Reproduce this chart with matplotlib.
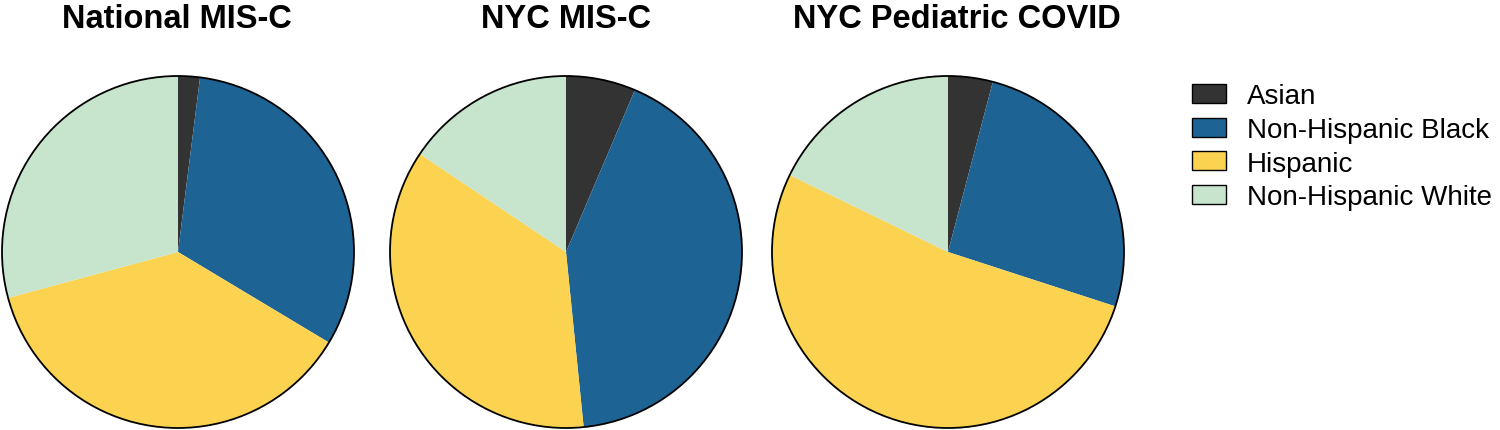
import matplotlib
matplotlib.use("Agg")
import matplotlib.pyplot as plt
from matplotlib.patches import Circle, Patch

categories = ["Asian", "Non-Hispanic Black", "Hispanic", "Non-Hispanic White"]
colors = ["#333333", "#1d6494", "#fbd351", "#c7e4cd"]
titles = ["National MIS-C", "NYC MIS-C", "NYC Pediatric COVID"]
national_misc = [2.0, 31.6, 37.2, 29.2]
nyc_misc = [6.4, 42.0, 36.0, 15.6]
nyc_covid = [4.1, 25.9, 52.2, 17.8]
series = [national_misc, nyc_misc, nyc_covid]

plt.rcParams['font.family'] = ['Liberation Sans', 'DejaVu Sans']
W, H = 1500, 431
fig = plt.figure(figsize=(15, 4.31), dpi=100)

centers = [178, 566, 948]
r = 176
cy = 253
title_x = [177, 566, 957]
for cx, vals, title, tx in zip(centers, series, titles, title_x):
    pad = 2
    ax = fig.add_axes([(cx - r - pad) / W, (H - cy - r - pad) / H,
                       (2 * r + 2 * pad) / W, (2 * r + 2 * pad) / H])
    ax.pie(vals, colors=colors, startangle=90, counterclock=False,
           wedgeprops=dict(linewidth=0), radius=1)
    ax.add_patch(Circle((0, 0), 1, fill=False, lw=1.3, ec="black"))
    lim = 1 + pad / r
    ax.set_xlim(-lim, lim)
    ax.set_ylim(-lim, lim)
    ax.set_aspect("equal")
    ax.axis("off")
    fig.text(tx / W, 1 - 20 / H, title, ha="center", va="center",
             fontsize=23.5, fontweight="bold")

handles = [Patch(facecolor=c, edgecolor="black", linewidth=1) for c in colors]
fig.legend(handles, categories, loc="upper left",
           bbox_to_anchor=(1192 / W, 1 - 84 / H), frameon=False,
           fontsize=20, handlelength=1.22, handleheight=0.68,
           handletextpad=0.75, labelspacing=0.28, borderpad=0, borderaxespad=0)

fig.savefig("out.png", dpi=100)
